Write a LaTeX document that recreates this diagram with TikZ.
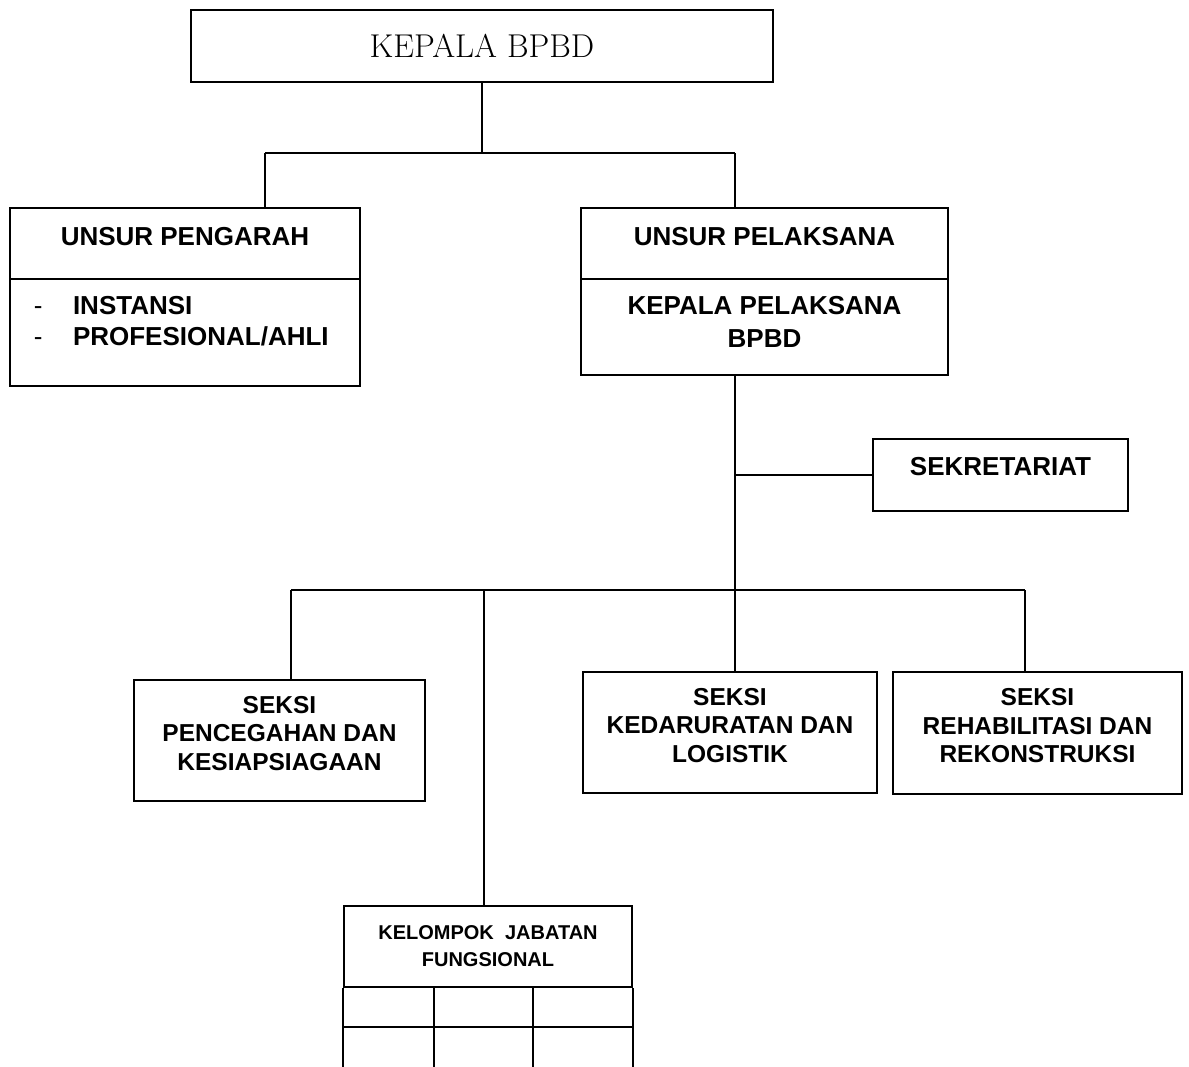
\documentclass[tikz,border=0pt]{standalone}
\usepackage{fontspec}
\newfontfamily\sansf{Liberation Sans}
\usetikzlibrary{calc}
\begin{document}
\begin{tikzpicture}[x=1pt,y=-1pt,line width=2pt,
  box/.style={draw,line width=2pt,inner sep=0pt,rectangle},
  ttl/.style={font=\sansf\bfseries\fontsize{26}{33}\selectfont,align=center,inner sep=0pt},
  itm/.style={font=\sansf\bfseries\fontsize{26}{31}\selectfont,inner sep=0pt,anchor=base west},
  dsh/.style={font=\sansf\fontsize{26}{31}\selectfont,inner sep=0pt,anchor=base west},
  sks/.style={font=\sansf\bfseries\fontsize{24.5}{28.5}\selectfont,align=center,inner sep=0pt},
  klp/.style={font=\sansf\bfseries\fontsize{20}{27}\selectfont,align=center,inner sep=0pt},
  conn/.style={draw,line width=2pt}]
\useasboundingbox (0,0) rectangle (1189,1066);

% top
\node[box,minimum width=582pt,minimum height=72pt,font=\fontsize{33}{38}\selectfont] (kepala) at (482,46) {KEPALA BPBD};

% unsur pengarah
\node[box,minimum width=350pt,minimum height=178pt] (pengarah) at (185,297) {};
\draw ($(pengarah.west)+(0,-18)$) -- ($(pengarah.east)+(0,-18)$);
\node[ttl] (pengarahT) at (185,237) {UNSUR PENGARAH};
\node[dsh] (d1) at (33,314) {-};
\node[itm] (i1) at (72,314) {INSTANSI};
\node[dsh] (d2) at (33,345) {-};
\node[itm] (i2) at (72,345) {PROFESIONAL/AHLI};

% unsur pelaksana
\node[box,minimum width=367pt,minimum height=167pt] (pelaksana) at (764.5,291.5) {};
\draw ($(pelaksana.west)+(0,-12.5)$) -- ($(pelaksana.east)+(0,-12.5)$);
\node[ttl] (pelaksanaT) at (764.5,237) {UNSUR PELAKSANA};
\node[ttl] (kplT) at (764.5,321.5) {KEPALA PELAKSANA\\BPBD};

% sekretariat
\node[box,minimum width=255pt,minimum height=72pt] (sekr) at (1000.5,475) {};
\node[ttl] (sekrT) at (1000.5,467) {SEKRETARIAT};

% seksi boxes
\node[box,minimum width=291pt,minimum height=121pt] (s1) at (279.5,740.5) {};
\node[sks] (s1T) at ($(s1.center)+(0,-7)$) {SEKSI\\PENCEGAHAN DAN\\KESIAPSIAGAAN};
\node[box,minimum width=294pt,minimum height=121pt] (s2) at (730,732.5) {};
\node[sks] (s2T) at ($(s2.center)+(0,-7)$) {SEKSI\\KEDARURATAN DAN\\LOGISTIK};
\node[box,minimum width=289pt,minimum height=122pt] (s3) at (1037.5,733) {};
\node[sks] (s3T) at ($(s3.center)+(0,-7)$) {SEKSI\\REHABILITASI DAN\\REKONSTRUKSI};

% kelompok jabatan fungsional
\node[box,minimum width=288pt,minimum height=81pt,klp] (kel) at (488,946.5) {KELOMPOK~~JABATAN\\FUNGSIONAL};
\draw (kel.south west) -- ++(0,90);
\draw (kel.south east) -- ++(0,90);
\draw ($(kel.south west)+(91,0)$) -- ++(0,90);
\draw ($(kel.south west)+(190,0)$) -- ++(0,90);
\draw ($(kel.south west)+(0,39)$) -- ($(kel.south east)+(0,39)$);

% connectors
\coordinate (b1L) at (265,153);
\coordinate (b1R) at (735,153);
\coordinate (b2L) at (291,590);
\coordinate (b2K) at (484,590);
\coordinate (b2M) at (735,590);
\coordinate (b2R) at (1025,590);
\draw[conn] (kepala.south) -- (kepala.south |- b1L);
\draw[conn] (b1L) -- (b1R);
\draw[conn] (b1L) -- (b1L |- pengarah.north);
\draw[conn] (b1R) -- (b1R |- pelaksana.north);
\draw[conn] (b1R |- pelaksana.south) -- (b2M);
\draw[conn] (b2M |- sekr.west) -- (sekr.west);
\draw[conn] (b2L) -- (b2R);
\draw[conn] (b2L) -- (b2L |- s1.north);
\draw[conn] (b2M) -- (b2M |- s2.north);
\draw[conn] (b2R) -- (b2R |- s3.north);
\draw[conn] (b2K) -- (b2K |- kel.north);
\end{tikzpicture}
\end{document}
